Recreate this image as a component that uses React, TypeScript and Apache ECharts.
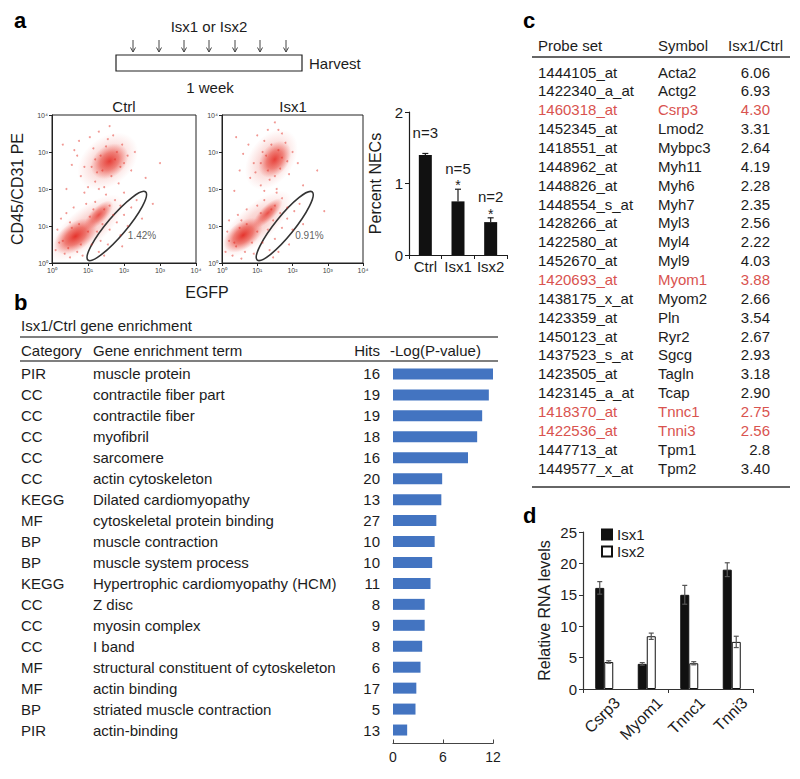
import React, { useEffect, useRef } from "react";
import * as echarts from "echarts";

const FONT = "'Liberation Sans', Arial, Helvetica, sans-serif";
const INK = "#1c1c1c";
const RED_TXT = "#d9534f";

// ---------- Panel a: flow cytometry (log10 units) ----------
const flowTickLabels = ["10\u2070", "10\u00b9", "10\u00b2", "10\u00b3", "10\u2074"];
// [centerX, centerY, semiX, semiY, angleDeg, opacity]
const ctrlClusters = [
  [1.55, 2.75, 0.95, 0.65, 40, 0.28],
  [1.6, 2.75, 0.58, 0.42, 40, 0.8],
  [0.95, 0.95, 1.3, 0.52, 40, 0.28],
  [0.65, 0.72, 0.68, 0.38, 35, 0.88],
  [1.3, 1.3, 0.52, 0.22, 45, 0.72],
];
const isx1Clusters = [
  [1.4, 2.8, 0.95, 0.6, 55, 0.28],
  [1.5, 2.8, 0.58, 0.38, 55, 0.8],
  [0.95, 1.05, 1.3, 0.5, 42, 0.28],
  [0.6, 0.75, 0.64, 0.36, 38, 0.88],
  [1.3, 1.35, 0.56, 0.2, 45, 0.72],
];
const ctrlDots = [
  [0.55, 2.65], [0.62, 3.05], [0.7, 2.9], [0.75, 3.3], [0.8, 2.35], [0.9, 2.6], [1.0, 2.05], [1.05, 3.4],
  [1.15, 3.1], [1.2, 2.2], [1.3, 3.55], [1.45, 2.05], [1.6, 3.7], [1.7, 3.45], [1.85, 2.15], [1.95, 3.2],
  [2.1, 2.9], [2.2, 2.5], [2.3, 3.0], [1.25, 2.45], [1.9, 2.6],
  [1.35, 2.9], [1.5, 3.15], [1.75, 2.8], [1.4, 2.5], [1.8, 3.0], [1.2, 2.8], [1.65, 2.35], [2.0, 2.7],
  [1.1, 2.6], [1.55, 3.35],
  [0.1, 0.35], [0.15, 0.9], [0.25, 1.2], [0.3, 0.6], [0.4, 1.35], [0.5, 0.15], [0.6, 1.5], [0.85, 0.2],
  [0.95, 1.6], [1.05, 1.25], [1.1, 0.5], [1.25, 0.85], [1.4, 1.05], [1.5, 1.85], [1.75, 1.7], [1.9, 1.55],
  [0.45, 0.4], [0.55, 0.95], [0.75, 1.05], [0.8, 0.5], [1.0, 0.85], [1.15, 1.45], [1.6, 1.55], [0.35, 0.25],
  [0.2, 0.55], [0.7, 0.3], [1.45, 1.45], [1.2, 1.65], [0.5, 1.1], [1.7, 1.3],
  [1.3, 0.3], [1.35, 0.6], [1.55, 0.5], [1.6, 0.9], [1.8, 1.1], [1.9, 0.75], [2.0, 1.3], [2.2, 1.5], [2.5, 1.2],
  [2.1, 1.0], [2.35, 1.7], [1.95, 0.45], [1.45, 0.2],
  [0.4, 2.0], [0.9, 1.9], [1.3, 2.0], [2.0, 1.9], [2.6, 2.3], [2.8, 1.6], [3.0, 2.7], [0.3, 3.2],
];
const isx1Dots = [
  [0.5, 2.5], [0.6, 2.95], [0.75, 3.2], [0.8, 2.3], [0.9, 2.7], [1.0, 3.45], [1.1, 2.1], [1.15, 3.0],
  [1.3, 3.6], [1.35, 2.25], [1.5, 3.8], [1.55, 2.0], [1.7, 3.5], [1.8, 3.25], [1.9, 2.4], [2.0, 3.0],
  [2.15, 2.7], [0.95, 2.45], [1.65, 2.55],
  [1.25, 2.9], [1.4, 3.2], [1.6, 3.05], [1.3, 2.5], [1.7, 2.85], [1.1, 2.7], [1.5, 2.35], [1.85, 2.75],
  [1.2, 3.3], [1.6, 3.6],
  [0.1, 0.3], [0.15, 0.85], [0.2, 1.15], [0.35, 0.55], [0.45, 1.3], [0.55, 0.12], [0.7, 1.45], [0.9, 0.25],
  [1.0, 1.55], [1.15, 0.55], [1.3, 0.9], [1.45, 1.15], [1.55, 1.9], [1.7, 1.75], [1.85, 1.5],
  [0.4, 0.45], [0.5, 0.95], [0.7, 1.05], [0.85, 0.55], [1.0, 0.85], [1.1, 1.35], [1.5, 1.55], [0.3, 0.2],
  [0.2, 0.6], [0.65, 0.3], [1.4, 1.45], [1.2, 1.7], [0.55, 1.15], [1.65, 1.35],
  [1.35, 0.35], [1.5, 0.65], [1.7, 0.95], [1.85, 1.2], [2.05, 1.4], [2.3, 1.05], [1.6, 0.3],
  [2.0, 0.9], [2.2, 1.6], [1.9, 0.5], [1.45, 0.15],
  [0.35, 1.95], [1.2, 1.95], [2.3, 2.1], [2.7, 2.5], [2.9, 1.4], [0.4, 3.4],
];
// gate: [x1, y1, x2, y2, halfWidth] in log10 units
const ctrlGate = [[1.0, 0.08, 2.6, 1.92, 0.26]];
const isx1Gate = [[1.0, 0.08, 2.56, 1.92, 0.26]];
const ctrlGatePct = [{ value: [2.5, 0.73], name: "1.42%" }];
const isx1GatePct = [{ value: [2.48, 0.73], name: "0.91%" }];

// ---------- Panel a: NEC bar chart ----------
const necCats = ["Ctrl", "Isx1", "Isx2"];
const necValues = [1.4, 0.75, 0.46];
const necErrors = [0.02, 0.17, 0.06];
const necN = ["n=3", "n=5", "n=2"];
const necStar = ["", "*", "*"];

// ---------- Panel b: enrichment ----------
const enrichCategory = ["PIR", "CC", "CC", "CC", "CC", "CC", "KEGG", "MF", "BP", "BP", "KEGG", "CC", "CC", "CC", "MF", "MF", "BP", "PIR"];
const enrichTerm = [
  "muscle protein", "contractile fiber part", "contractile fiber", "myofibril", "sarcomere",
  "actin cytoskeleton", "Dilated cardiomyopathy", "cytoskeletal protein binding", "muscle contraction",
  "muscle system process", "Hypertrophic cardiomyopathy (HCM)", "Z disc", "myosin complex", "I band",
  "structural constituent of cytoskeleton", "actin binding", "striated muscle contraction", "actin-binding",
];
const enrichHits = [16, 19, 19, 18, 16, 20, 13, 27, 10, 10, 11, 8, 9, 8, 6, 17, 5, 13];
const enrichLogP = [12.1, 11.5, 10.7, 10.1, 9.0, 5.9, 5.8, 5.2, 5.0, 4.7, 4.5, 3.8, 3.8, 3.5, 3.3, 2.8, 2.7, 1.7];
const enrichTicks = [0, 6, 12];

// ---------- Panel c: probe table ----------
const probeSets = [
  "1444105_at", "1422340_a_at", "1460318_at", "1452345_at", "1418551_at", "1448962_at", "1448826_at",
  "1448554_s_at", "1428266_at", "1422580_at", "1452670_at", "1420693_at", "1438175_x_at", "1423359_at",
  "1450123_at", "1437523_s_at", "1423505_at", "1423145_a_at", "1418370_at", "1422536_at", "1447713_at", "1449577_x_at",
];
const probeSymbols = [
  "Acta2", "Actg2", "Csrp3", "Lmod2", "Mybpc3", "Myh11", "Myh6", "Myh7", "Myl3", "Myl4", "Myl9", "Myom1",
  "Myom2", "Pln", "Ryr2", "Sgcg", "Tagln", "Tcap", "Tnnc1", "Tnni3", "Tpm1", "Tpm2",
];
const probeRatios = [
  "6.06", "6.93", "4.30", "3.31", "2.64", "4.19", "2.28", "2.35", "2.56", "2.22", "4.03", "3.88",
  "2.66", "3.54", "2.67", "2.93", "3.18", "2.90", "2.75", "2.56", "2.8", "3.40",
];
const highlighted = ["Csrp3", "Myom1", "Tnnc1", "Tnni3"];

// ---------- Panel d: qPCR ----------
const rnaGenes = ["Csrp3", "Myom1", "Tnnc1", "Tnni3"];
const isx1Rna = [16.1, 4.0, 15.0, 19.0];
const isx1RnaErr = [1.0, 0.2, 1.5, 1.1];
const isx2Rna = [4.3, 8.4, 4.1, 7.5];
const isx2RnaErr = [0.2, 0.5, 0.25, 0.9];

// ---------- helpers ----------
const clusterRender = (params: any, api: any) => {
  const c = api.coord([api.value(0), api.value(1)]);
  const s = api.size([1, 1]);
  const a = api.value(5);
  return {
    type: "ellipse",
    x: c[0],
    y: c[1],
    rotation: (api.value(4) * Math.PI) / 180,
    shape: { cx: 0, cy: 0, rx: api.value(2) * s[0], ry: api.value(3) * s[1] },
    style: {
      fill: new echarts.graphic.RadialGradient(0.5, 0.5, 0.5, [
        { offset: 0, color: `rgba(226,30,22,${a})` },
        { offset: 0.5, color: `rgba(230,52,40,${a * 0.65})` },
        { offset: 1, color: "rgba(240,90,80,0)" },
      ]),
    },
  };
};

const gateRender = (params: any, api: any) => {
  const p1 = api.coord([api.value(0), api.value(1)]);
  const p2 = api.coord([api.value(2), api.value(3)]);
  const s = api.size([1, 1]);
  const dx = p2[0] - p1[0];
  const dy = p2[1] - p1[1];
  return {
    type: "ellipse",
    x: (p1[0] + p2[0]) / 2,
    y: (p1[1] + p2[1]) / 2,
    rotation: Math.atan2(-dy, dx),
    shape: { cx: 0, cy: 0, rx: Math.sqrt(dx * dx + dy * dy) / 2, ry: api.value(4) * s[1] },
    style: { fill: "none", stroke: "#333", lineWidth: 1.6 },
  };
};

const necErrRender = (params: any, api: any) => {
  const i = api.value(0);
  const v = api.value(1);
  const e = api.value(2);
  const base = api.coord([i, v]);
  const top = api.coord([i, v + e]);
  const x = base[0];
  const children: any[] = [
    { type: "line", shape: { x1: x, y1: base[1], x2: x, y2: top[1] }, style: { stroke: INK, lineWidth: 1.2 } },
    { type: "line", shape: { x1: x - 3, y1: top[1], x2: x + 3, y2: top[1] }, style: { stroke: INK, lineWidth: 1.2 } },
  ];
  const star = necStar[params.dataIndex];
  if (star) {
    children.push({
      type: "text",
      x,
      y: top[1] - 4,
      style: { text: star, fontSize: 14, fontFamily: FONT, fill: INK, textAlign: "center", textVerticalAlign: "middle" },
    });
  }
  children.push({
    type: "text",
    x,
    y: top[1] - 21,
    style: { text: necN[params.dataIndex], fontSize: 15, fontFamily: FONT, fill: INK, textAlign: "center", textVerticalAlign: "middle" },
  });
  return { type: "group", children };
};

const rnaErrRender = (params: any, api: any) => {
  const i = api.value(0);
  const v = api.value(1);
  const e = api.value(2);
  const off = api.value(3);
  const base = api.coord([i, v]);
  const top = api.coord([i, v + e]);
  const bot = api.coord([i, v - e]);
  const x = base[0] + off;
  const st = { stroke: "#555", lineWidth: 1.2 };
  return {
    type: "group",
    children: [
      { type: "line", shape: { x1: x, y1: bot[1], x2: x, y2: top[1] }, style: st },
      { type: "line", shape: { x1: x - 2.5, y1: top[1], x2: x + 2.5, y2: top[1] }, style: st },
      { type: "line", shape: { x1: x - 2.5, y1: bot[1], x2: x + 2.5, y2: bot[1] }, style: st },
    ],
  };
};

// rotated gene labels under panel d, placed through the category scale
const rnaLabelRender = (params: any, api: any) => {
  const c = api.coord([api.value(0), 0]);
  return {
    type: "text",
    x: c[0] + 13,
    y: c[1] + 11,
    rotation: Math.PI / 4,
    style: {
      text: rnaGenes[params.dataIndex],
      fontSize: 16,
      fontFamily: FONT,
      fill: INK,
      textAlign: "right",
      textVerticalAlign: "middle",
    },
  };
};

const txt = (text: string, x: number, y: number, o: any = {}) => ({
  type: "text",
  x,
  y,
  silent: true,
  style: {
    text,
    fontSize: o.fontSize ?? 15,
    fontFamily: FONT,
    fontWeight: o.fontWeight ?? "normal",
    fill: o.fill ?? INK,
    textAlign: o.align ?? "left",
    textVerticalAlign: "middle",
  },
});
const hline = (x1: number, x2: number, y: number, w = 1.5, c = "#444") => ({
  type: "line",
  silent: true,
  shape: { x1, y1: y, x2, y2: y },
  style: { stroke: c, lineWidth: w },
});

const flowAxisCommon = {
  type: "value",
  min: 0,
  max: 4,
  interval: 1,
  splitLine: { show: false },
  axisLine: { show: true, lineStyle: { color: "#222", width: 1 } },
  axisTick: { show: true, length: 3, lineStyle: { color: "#222" } },
  axisLabel: { fontSize: 7, color: "#444", margin: 4, formatter: (v: number) => flowTickLabels[v] },
};

function buildGraphic() {
  const g: any[] = [];
  // panel letters
  g.push(txt("a", 14, 20, { fontSize: 22, fontWeight: "bold", fill: "#000" }));
  g.push(txt("b", 14, 302, { fontSize: 22, fontWeight: "bold", fill: "#000" }));
  g.push(txt("c", 523, 20, { fontSize: 22, fontWeight: "bold", fill: "#000" }));
  g.push(txt("d", 523, 515, { fontSize: 22, fontWeight: "bold", fill: "#000" }));

  // schematic
  g.push(txt("Isx1 or Isx2", 209, 26, { align: "center" }));
  [133, 159, 184, 209, 235, 260, 286].forEach((x) => {
    g.push({ type: "line", silent: true, shape: { x1: x, y1: 40, x2: x, y2: 52 }, style: { stroke: "#444", lineWidth: 1 } });
    g.push({
      type: "polyline",
      silent: true,
      shape: { points: [[x - 2.5, 47.5], [x, 52], [x + 2.5, 47.5]] },
      style: { stroke: "#444", lineWidth: 1, fill: "none" },
    });
  });
  g.push({ type: "rect", silent: true, shape: { x: 116, y: 55, width: 186, height: 16 }, style: { fill: "#fff", stroke: "#222", lineWidth: 1.2 } });
  g.push(txt("Harvest", 309, 63));
  g.push(txt("1 week", 210, 87, { align: "center" }));
  g.push(txt("Ctrl", 124, 106, { align: "center" }));
  g.push(txt("Isx1", 293, 106, { align: "center" }));
  g.push(txt("EGFP", 207, 292, { align: "center", fontSize: 16 }));

  // panel b table frame
  g.push(txt("Isx1/Ctrl gene enrichment", 21, 325, { fontSize: 15 }));
  g.push(hline(20, 498, 337, 1.5, "#555"));
  g.push(txt("Category", 21, 350));
  g.push(txt("Gene enrichment term", 93, 350));
  g.push(txt("Hits", 380, 350, { align: "right" }));
  g.push(txt("-Log(P-value)", 390, 350));
  g.push(hline(20, 498, 361, 1.5, "#555"));

  // panel c table
  g.push(txt("Probe set", 538, 45));
  g.push(txt("Symbol", 658, 45));
  g.push(txt("Isx1/Ctrl", 783, 45, { align: "right" }));
  g.push(hline(532, 790, 57, 2, "#666"));
  probeSets.forEach((p, i) => {
    const y = 72 + i * 18.86;
    const col = highlighted.includes(probeSymbols[i]) ? RED_TXT : INK;
    g.push(txt(p, 538, y, { fill: col }));
    g.push(txt(probeSymbols[i], 658, y, { fill: col }));
    g.push(txt(probeRatios[i], 770, y, { fill: col, align: "right" }));
  });
  g.push(hline(532, 790, 487, 2, "#666"));
  return g;
}

const option: any = {
  animation: false,
  backgroundColor: "#fff",
  textStyle: { fontFamily: FONT },
  grid: [
    { left: 52, top: 115, width: 144, height: 148, show: true, borderColor: "#222", borderWidth: 1, backgroundColor: "#fff" },
    { left: 222, top: 115, width: 141, height: 148, show: true, borderColor: "#222", borderWidth: 1, backgroundColor: "#fff" },
    { left: 409, top: 112, width: 98, height: 143 },
    { left: 393, top: 363.5, width: 100, height: 377 },
    { left: 583, top: 532, width: 170, height: 157 },
  ],
  xAxis: [
    { ...flowAxisCommon, gridIndex: 0 },
    { ...flowAxisCommon, gridIndex: 1 },
    {
      gridIndex: 2,
      type: "category",
      data: necCats,
      axisLine: { lineStyle: { color: INK, width: 1.2 } },
      axisTick: { show: true, length: 4, lineStyle: { color: INK } },
      axisLabel: { fontSize: 15, color: INK, margin: 4, interval: 0 },
    },
    {
      gridIndex: 3,
      type: "value",
      min: 0,
      max: 12,
      interval: 6,
      offset: 3,
      splitLine: { show: false },
      axisLine: { show: true, lineStyle: { color: "#444", width: 1.2 } },
      axisTick: { show: true, inside: true, length: 4, lineStyle: { color: "#444" } },
      axisLabel: { fontSize: 14, color: INK, margin: 6, formatter: (v: number) => (enrichTicks.includes(v) ? String(v) : "") },
    },
    {
      gridIndex: 4,
      type: "category",
      data: rnaGenes,
      axisLine: { lineStyle: { color: "#333", width: 1.2 } },
      axisTick: { show: true, length: 4, lineStyle: { color: "#333" } },
      axisLabel: { show: false },
    },
  ],
  yAxis: [
    {
      ...flowAxisCommon,
      gridIndex: 0,
      name: "CD45/CD31 PE",
      nameLocation: "middle",
      nameGap: 27,
      nameTextStyle: { fontSize: 16, color: INK },
    },
    { ...flowAxisCommon, gridIndex: 1 },
    {
      gridIndex: 2,
      type: "value",
      min: 0,
      max: 2,
      interval: 1,
      splitLine: { show: false },
      axisLine: { show: true, lineStyle: { color: INK, width: 1.2 } },
      axisTick: { show: true, length: 4, lineStyle: { color: INK } },
      axisLabel: { fontSize: 15, color: INK, margin: 6 },
      name: "Percent NECs",
      nameLocation: "middle",
      nameGap: 26,
      nameTextStyle: { fontSize: 16, color: INK },
    },
    {
      gridIndex: 3,
      type: "category",
      inverse: true,
      data: enrichTerm,
      axisLine: { show: false },
      axisTick: { show: false },
      axisLabel: {
        margin: 13,
        interval: 0,
        formatter: (_v: string, i: number) => `{c|${enrichCategory[i]}}{t|${enrichTerm[i]}}{h|${enrichHits[i]}}`,
        rich: {
          c: { width: 72, align: "left", fontSize: 15, color: INK, fontFamily: FONT },
          t: { width: 245, align: "left", fontSize: 15, color: INK, fontFamily: FONT },
          h: { width: 42, align: "right", fontSize: 15, color: INK, fontFamily: FONT },
        },
      },
    },
    {
      gridIndex: 4,
      type: "value",
      min: 0,
      max: 25,
      interval: 5,
      splitLine: { show: false },
      axisLine: { show: true, lineStyle: { color: "#333", width: 1.2 } },
      axisTick: { show: true, length: 4, lineStyle: { color: "#333" } },
      axisLabel: { fontSize: 15, color: INK, margin: 6 },
      name: "Relative RNA levels",
      nameLocation: "middle",
      nameGap: 31,
      nameTextStyle: { fontSize: 16, color: INK },
    },
  ],
  legend: {
    data: ["Isx1", "Isx2"],
    left: 596,
    top: 522,
    orient: "vertical",
    icon: "rect",
    itemWidth: 10,
    itemHeight: 10,
    itemGap: 2,
    textStyle: { fontSize: 15, color: INK, fontFamily: FONT },
  },
  series: [
    { type: "custom", name: "ctrlClusters", xAxisIndex: 0, yAxisIndex: 0, clip: true, renderItem: clusterRender, data: ctrlClusters, silent: true },
    { type: "scatter", name: "ctrlDots", xAxisIndex: 0, yAxisIndex: 0, symbolSize: 2, itemStyle: { color: "rgba(225,40,30,0.6)" }, data: ctrlDots, silent: true },
    { type: "custom", name: "ctrlGate", xAxisIndex: 0, yAxisIndex: 0, renderItem: gateRender, data: ctrlGate, silent: true },
    {
      type: "scatter", name: "ctrlPct", xAxisIndex: 0, yAxisIndex: 0, symbolSize: 0, data: ctrlGatePct, silent: true,
      label: { show: true, position: "inside", formatter: "{b}", fontSize: 10, color: "#333" },
    },
    { type: "custom", name: "isx1Clusters", xAxisIndex: 1, yAxisIndex: 1, clip: true, renderItem: clusterRender, data: isx1Clusters, silent: true },
    { type: "scatter", name: "isx1Dots", xAxisIndex: 1, yAxisIndex: 1, symbolSize: 2, itemStyle: { color: "rgba(225,40,30,0.6)" }, data: isx1Dots, silent: true },
    { type: "custom", name: "isx1Gate", xAxisIndex: 1, yAxisIndex: 1, renderItem: gateRender, data: isx1Gate, silent: true },
    {
      type: "scatter", name: "isx1Pct", xAxisIndex: 1, yAxisIndex: 1, symbolSize: 0, data: isx1GatePct, silent: true,
      label: { show: true, position: "inside", formatter: "{b}", fontSize: 10, color: "#333" },
    },
    { type: "bar", name: "NEC", xAxisIndex: 2, yAxisIndex: 2, barWidth: 13, itemStyle: { color: "#111" }, data: necValues },
    {
      type: "custom", name: "NECerr", xAxisIndex: 2, yAxisIndex: 2, renderItem: necErrRender,
      data: necValues.map((v, i) => [i, v, necErrors[i]]),
    },
    { type: "bar", name: "enrich", xAxisIndex: 3, yAxisIndex: 3, barWidth: 11, itemStyle: { color: "#4374c1" }, data: enrichLogP },
    { type: "bar", name: "Isx1", xAxisIndex: 4, yAxisIndex: 4, barWidth: 9, barGap: "0%", itemStyle: { color: "#111", borderColor: "#111", borderWidth: 1 }, data: isx1Rna },
    { type: "bar", name: "Isx2", xAxisIndex: 4, yAxisIndex: 4, barWidth: 9, barGap: "0%", itemStyle: { color: "#fff", borderColor: "#111", borderWidth: 1 }, data: isx2Rna },
    {
      type: "custom", name: "rnaErr", xAxisIndex: 4, yAxisIndex: 4, renderItem: rnaErrRender, z: 5,
      data: [
        ...isx1Rna.map((v, i) => [i, v, isx1RnaErr[i], -4.5]),
        ...isx2Rna.map((v, i) => [i, v, isx2RnaErr[i], 4.5]),
      ],
    },
    {
      type: "custom", name: "rnaLabels", xAxisIndex: 4, yAxisIndex: 4, renderItem: rnaLabelRender, clip: false, silent: true,
      data: rnaGenes.map((_g, i) => [i, 0]),
    },
  ],
  graphic: buildGraphic(),
};

export default function App() {
  const ref = useRef<HTMLDivElement>(null);
  useEffect(() => {
    if (!ref.current) return;
    const chart = echarts.init(ref.current, null, { renderer: "svg", width: 800, height: 779 });
    chart.setOption(option);
    return () => chart.dispose();
  }, []);
  return (
    <div
      ref={ref}
      style={{ position: "absolute", left: 0, top: 0, width: 800, height: 779, background: "#fff" }}
    />
  );
}
